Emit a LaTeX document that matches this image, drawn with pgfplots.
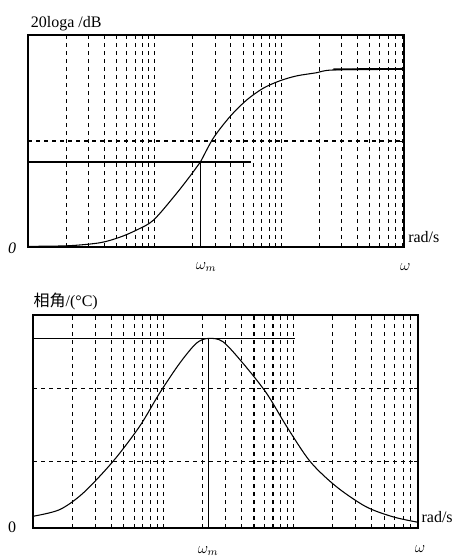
\documentclass[border=0pt]{standalone}
\usepackage{pgfplots}
\pgfplotsset{compat=1.18}
\usepackage{fontspec}
\setmainfont{Liberation Serif}
\newfontfamily\cjk{Noto Sans CJK SC}
\begin{document}
\fontsize{12}{14}\selectfont
\begin{tikzpicture}[x=1pt,y=1pt]
\useasboundingbox (0,0) rectangle (356.25,419.25);
% top axis
\begin{semilogxaxis}[scale only axis, anchor=south west,
  at={(21pt,234pt)}, width=282pt, height=159pt,
  xmin=1, xmax=930, ymin=0, ymax=1, ytick={0.5},
  xtick={1,10,100,1000},
  xticklabels={}, yticklabels={},
  xmajorgrids, xminorgrids, ymajorgrids,
  major grid style={black, line width=0.8pt, dash pattern=on 3pt off 3pt},
  minor grid style={black, line width=0.8pt, dash pattern=on 3pt off 3pt},
  axis line style={line width=1.3pt},
  tick style={black, line width=0.7pt},
  major tick length=3pt, minor tick length=3pt]
\addplot[black, line width=0.8pt, smooth] coordinates {
(1,0.003) (2.1,0.006) (3.7,0.02) (5.3,0.046) (7.2,0.08) (9.8,0.127)
(14.9,0.253) (20.2,0.355) (22.9,0.40) (29,0.513) (39.3,0.615)
(53.2,0.693) (72,0.749) (97.5,0.784) (132,0.807) (190,0.822)
(257,0.835) (930,0.840)};
\addplot[black, line width=1.4pt] coordinates {(257,0.838) (930,0.840)};
\addplot[black, line width=1.5pt] coordinates {(1,0.40) (58,0.40)};
\addplot[black, line width=0.8pt] coordinates {(22.9,0) (22.9,0.40)};
\end{semilogxaxis}
\node[anchor=south west, inner sep=0pt] at (23pt,396pt) {20loga /dB};
\node[anchor=center, inner sep=0pt] at (9pt,233pt) {\itshape 0};
\node[anchor=west, inner sep=0pt] at (306pt,241.5pt) {rad/s};
\node[anchor=center, inner sep=0pt] at (154.5pt,219pt) {$\omega_m$};
\node[anchor=center, inner sep=0pt] at (304pt,219pt) {$\omega$};
% bottom axis
\begin{semilogxaxis}[scale only axis, anchor=south west,
  at={(24.75pt,23.25pt)}, width=288.75pt, height=159.75pt,
  xmin=1, xmax=912, ymin=0, ymax=1, ytick={0.3125,0.656},
  xtick={1,10,100,1000},
  xticklabels={}, yticklabels={},
  xmajorgrids, xminorgrids, ymajorgrids,
  major grid style={black, line width=0.8pt, dash pattern=on 3pt off 3pt},
  minor grid style={black, line width=0.8pt, dash pattern=on 3pt off 3pt},
  axis line style={line width=1.3pt},
  tick style={black, line width=0.7pt},
  major tick length=3pt, minor tick length=3pt]
\addplot[black, line width=0.8pt, smooth] coordinates {
(1,0.055) (1.6,0.086) (2.43,0.164) (4.12,0.3125) (6.6,0.477) (9.4,0.633)
(13.4,0.773) (18.0,0.867) (22.2,0.89) (28.8,0.875) (41.2,0.773)
(62.4,0.633) (89.1,0.477) (135,0.3125) (214,0.195) (363,0.10)
(589,0.052) (912,0.027)};
\addplot[black, line width=0.8pt] coordinates {(1,0.89) (103,0.89)};
\addplot[black, line width=0.8pt] coordinates {(22.2,0) (22.2,0.89)};
\end{semilogxaxis}
\node[anchor=west, inner sep=0pt] at (25pt,193pt) {{\cjk 相角}/(°C)};
\node[anchor=center, inner sep=0pt] at (9pt,24pt) {0};
\node[anchor=west, inner sep=0pt] at (316pt,31.5pt) {rad/s};
\node[anchor=center, inner sep=0pt] at (156pt,6pt) {$\omega_m$};
\node[anchor=center, inner sep=0pt] at (315pt,7.5pt) {$\omega$};
\end{tikzpicture}
\end{document}
